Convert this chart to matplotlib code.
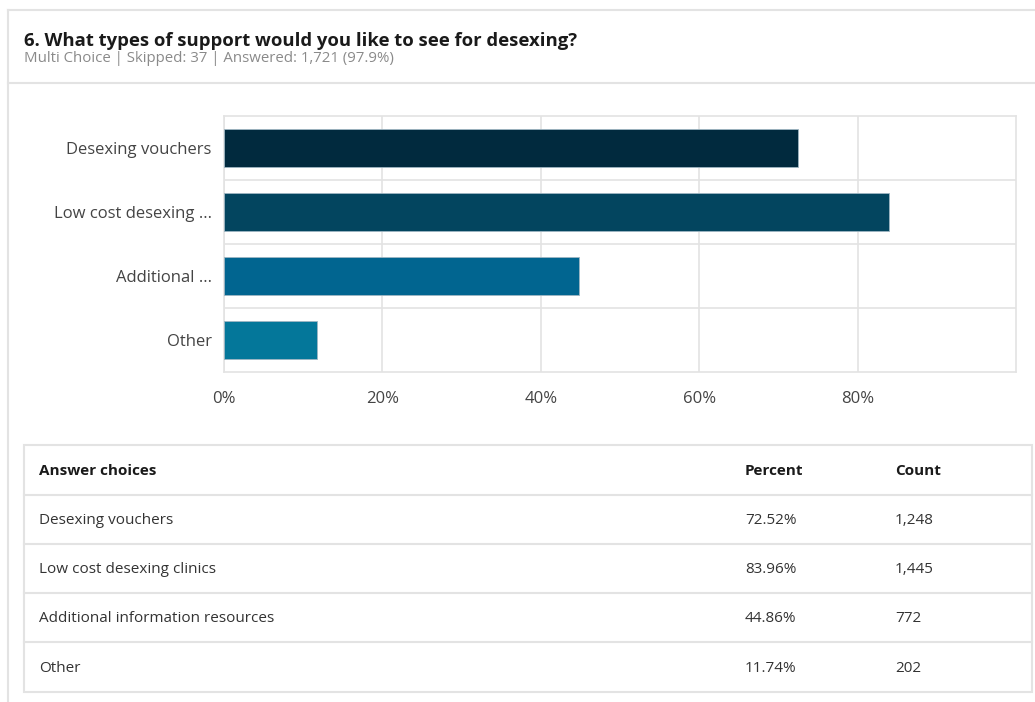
import matplotlib.pyplot as plt
from matplotlib.patches import Rectangle

plt.rcParams['font.family'] = ['Open Sans', 'DejaVu Sans']

# survey results
choices = ["Desexing vouchers", "Low cost desexing clinics",
           "Additional information resources", "Other"]
short_labels = ["Desexing vouchers", "Low cost desexing ...", "Additional ...", "Other"]
percents = [72.52, 83.96, 44.86, 11.74]
counts = [1248, 1445, 772, 202]
bar_colors = ["#012a3e", "#03455f", "#016590", "#04779a"]

W, H = 1035, 702
fig = plt.figure(figsize=(W / 100, H / 100), dpi=100)

# background layer in pixel units for the card and the table
bg = fig.add_axes([0, 0, 1, 1], zorder=0)
bg.set_xlim(0, W)
bg.set_ylim(H, 0)
bg.axis("off")

line_c = "#e3e3e3"
bg.plot([8, 8], [10, H], color=line_c, lw=1.5)
bg.plot([8, W], [10, 10], color=line_c, lw=1.5)
bg.plot([8, W], [83, 83], color=line_c, lw=1.5)

bg.text(24, 40.5, "6. What types of support would you like to see for desexing?",
        fontsize=13.3, fontweight="bold", color="#1a1a1a", va="center")
bg.text(24, 58.5, "Multi Choice | Skipped: 37 | Answered: 1,721 (97.9%)",
        fontsize=10.8, color="#8a8a8a", va="center")

# bar chart
ax = fig.add_axes([224 / W, (H - 372) / H, 792 / W, 256 / H], zorder=1)
ypos = list(range(len(choices)))
ax.barh(ypos, percents, height=0.6, color=bar_colors,
        edgecolor="#9fb6c3", linewidth=0.6, zorder=3)
ax.set_xlim(0, 100)
ax.set_ylim(len(choices) - 0.5, -0.5)
ax.set_xticks([0, 20, 40, 60, 80])
ax.set_xticklabels(["0%", "20%", "40%", "60%", "80%"])
ax.set_yticks(ypos)
ax.set_yticklabels(short_labels)
ax.set_yticks([0.5, 1.5, 2.5], minor=True)
ax.tick_params(axis="both", which="both", length=0, labelsize=12,
               labelcolor="#444444")
ax.tick_params(axis="x", pad=14)
ax.tick_params(axis="y", pad=9)
ax.grid(axis="x", which="major", color=line_c, lw=1.2, zorder=0)
ax.grid(axis="y", which="minor", color=line_c, lw=1.2, zorder=0)
for s in ax.spines.values():
    s.set_color(line_c)
    s.set_linewidth(1.2)

# answer table
tx0, tx1 = 24, 1032
row_edges = [445, 495, 544, 593, 642, 692]
bg.add_patch(Rectangle((tx0, row_edges[0]), tx1 - tx0, row_edges[-1] - row_edges[0],
                       fill=False, edgecolor=line_c, lw=1.5))
for y in row_edges[1:-1]:
    bg.plot([tx0, tx1], [y, y], color=line_c, lw=1.5)

col_x = [39, 745, 895]
headers = ["Answer choices", "Percent", "Count"]
hy = (row_edges[0] + row_edges[1]) / 2 + 1
for x, h in zip(col_x, headers):
    bg.text(x, hy, h, fontsize=11, fontweight="bold", color="#1a1a1a", va="center")

for i, (c, p, n) in enumerate(zip(choices, percents, counts)):
    ry = (row_edges[i + 1] + row_edges[i + 2]) / 2 + 1
    bg.text(col_x[0], ry, c, fontsize=11, color="#333333", va="center")
    bg.text(col_x[1], ry, f"{p:.2f}%", fontsize=11, color="#333333", va="center")
    bg.text(col_x[2], ry, f"{n:,}", fontsize=11, color="#333333", va="center")

fig.savefig("out.png", dpi=100)
